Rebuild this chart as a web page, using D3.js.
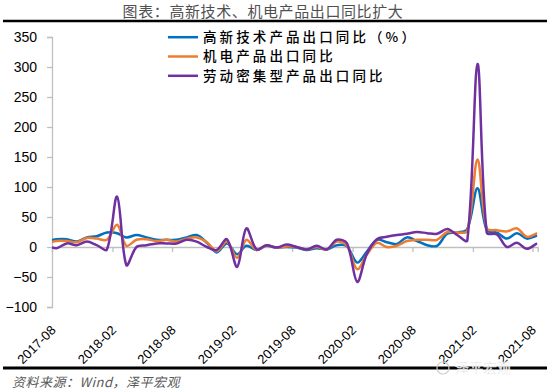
<!DOCTYPE html>
<html><head><meta charset="utf-8">
<script src="https://cdn.jsdelivr.net/npm/d3@7"></script>
<style>
html,body{margin:0;padding:0;background:#fff;}
svg{display:block;}
</style></head>
<body>
<svg id="c" width="550" height="391"></svg>
<script>
const months = ["2017-07","2017-08","2017-09","2017-10","2017-11","2017-12",
"2018-01","2018-02","2018-03","2018-04","2018-05","2018-06","2018-07","2018-08","2018-09","2018-10","2018-11","2018-12",
"2019-01","2019-02","2019-03","2019-04","2019-05","2019-06","2019-07","2019-08","2019-09","2019-10","2019-11","2019-12",
"2020-01","2020-02","2020-03","2020-04","2020-05","2020-06","2020-07","2020-08","2020-09","2020-10","2020-11","2020-12",
"2021-01","2021-02","2021-03","2021-04","2021-05","2021-06","2021-07","2021-08"];
const hiTech = [10,13,13,9,16,18,24,23,16,20,16,12,12,12,16,20,7,-9,6,-12,2,-5,2,-1,0,-1,-5,-2,-4,3,1,-26,-8,12,8,5,16,10,3,2,22,24,30,98,28,24,14,23,14,19];
const mech = [6,10,10,8,15,14,12,37,2,12,13,10,12,9,14,16,8,-7,9,-18,12,-5,3,-1,1,0,-4,0,-4,9,2,-37,-13,7,0,2,10,12,12,12,25,24,27,146,31,28,26,31,17,23];
const labor = [2,-2,6,3,9,3,-4,84,-30,0,3,6,6,6,12,9,0,-5,13,-33,31,-4,3,-1,4,0,-4,2,-4,12,6,-58,-12,13,17,20,22,25,23,22,30,20,11,305,24,21,0,7,-3,6];
const seriesNames = ["高新技术产品出口同比（%）","机电产品出口同比","劳动密集型产品出口同比"];
const seriesColors = ["#0070C0","#ED7D31","#7030A0"];
const xTickLabels = ["2017-08","2018-02","2018-08","2019-02","2019-08","2020-02","2020-08","2021-02","2021-08"];
const yTicks = [-100,-50,0,50,100,150,200,250,300,350];
const titleText = "图表：高新技术、机电产品出口同比扩大";
const sourceText = "资料来源：Wind，泽平宏观";

// Excel-like smoothed line: Bezier with chord-length-weighted tangents
function ExcelCurve(context){ this._context = context; }
ExcelCurve.prototype = {
  areaStart(){ this._line = 0; },
  areaEnd(){ this._line = NaN; },
  lineStart(){ this._pts = []; },
  point(x, y){ this._pts.push([+x, +y]); },
  lineEnd(){
    const p = this._pts, c = this._context, n = p.length;
    if (!n) return;
    const dist = (a,b) => Math.hypot(b[0]-a[0], b[1]-a[1]);
    c.moveTo(p[0][0], p[0][1]);
    for (let i = 0; i < n-1; i++){
      const p0 = p[Math.max(i-1,0)], p1 = p[i], p2 = p[i+1], p3 = p[Math.min(i+2,n-1)];
      const d01 = dist(p0,p1), d12 = dist(p1,p2), d23 = dist(p2,p3);
      const a = (d01+d12) > 0 ? d12/(d01+d12)/3 : 0;
      const b = (d12+d23) > 0 ? d12/(d12+d23)/3 : 0;
      c.bezierCurveTo(
        p1[0] + (p2[0]-p0[0])*a, p1[1] + (p2[1]-p0[1])*a,
        p2[0] - (p3[0]-p1[0])*b, p2[1] - (p3[1]-p1[1])*b,
        p2[0], p2[1]);
    }
  }
};
const curveExcel = ctx => new ExcelCurve(ctx);

const svg = d3.select("#c");
const parseM = d3.timeParse("%Y-%m");
const mid = s => { const d = parseM(s); return new Date(d.getFullYear(), d.getMonth(), 15); };

const x = d3.scaleTime().domain([new Date(2017,7,1), new Date(2021,7,17)]).range([52, 537.7]);
const y = d3.scaleLinear().domain([-100, 350]).range([307, 37]);

// title
svg.append("text").attr("x", 263).attr("y", 17).attr("text-anchor","middle")
  .attr("font-family","'Noto Sans CJK SC'").attr("font-size", 15).attr("letter-spacing", 0.6)
  .attr("fill","#505050").text(titleText);
svg.append("line").attr("x1",3).attr("x2",547).attr("y1",21).attr("y2",21)
  .attr("stroke","#000").attr("stroke-width",2.5);

// y axis
const ya = svg.append("g").attr("transform","translate(52,0)")
  .call(d3.axisLeft(y).tickValues(yTicks).tickSize(5).tickPadding(10).tickFormat(d3.format("d")));
ya.select(".domain").attr("stroke","#bfbfbf").attr("stroke-width",1.3);
ya.selectAll(".tick line").attr("stroke","#bfbfbf").attr("stroke-width",1.3);
ya.selectAll("text").attr("font-family","'Liberation Sans'").attr("font-size",14).attr("fill","#000");

// x axis at zero
const xTickDates = xTickLabels.map(parseM);
const xa = svg.append("g").attr("transform",`translate(0,${y(0)})`)
  .call(d3.axisBottom(x).tickValues(xTickDates).tickSize(5).tickFormat(""));
xa.select(".domain").attr("stroke","#bfbfbf").attr("stroke-width",1.3);
xa.selectAll(".tick line").attr("stroke","#bfbfbf").attr("stroke-width",1.3);

svg.append("g").selectAll("text").data(xTickLabels).join("text")
  .attr("transform", d => `translate(${x(parseM(d))+4.5},331) rotate(-45)`)
  .attr("text-anchor","end").attr("font-family","'Liberation Sans'").attr("font-size",13)
  .attr("fill","#000").text(d => d);

// clip
svg.append("clipPath").attr("id","pc").append("rect")
  .attr("x",52).attr("y",25).attr("width",537.7-52+2).attr("height",300);

const line = d3.line().x((d,i)=>x(mid(months[i]))).y(d=>y(d)).curve(curveExcel);
const g = svg.append("g").attr("clip-path","url(#pc)");
[hiTech, mech, labor].forEach((s,k)=>{
  g.append("path").attr("d", line(s)).attr("fill","none")
    .attr("stroke", seriesColors[k]).attr("stroke-width",2.5).attr("stroke-linejoin","round");
});

// legend
const ly = [37.2, 56.5, 75.8];
seriesNames.forEach((n,k)=>{
  svg.append("line").attr("x1",168).attr("x2",198).attr("y1",ly[k]).attr("y2",ly[k])
    .attr("stroke",seriesColors[k]).attr("stroke-width",2.5);
  svg.append("text").attr("x",203).attr("y",ly[k]).attr("dy","0.36em")
    .attr("font-family","'Noto Sans CJK SC'").attr("font-size",13.5).attr("font-weight",500)
    .attr("letter-spacing",3.1).attr("fill","#000").text(n);
});

// bottom
svg.append("line").attr("x1",3).attr("x2",547).attr("y1",368).attr("y2",368)
  .attr("stroke","#000").attr("stroke-width",3);
svg.append("text").attr("x",12).attr("y",387)
  .attr("font-family","'Noto Sans CJK SC'").attr("font-size",13).attr("font-style","italic")
  .attr("letter-spacing",0.5).attr("fill","#595959").text(sourceText);
// watermark
svg.append("text").attr("x",455).attr("y",373)
  .attr("font-family","'Noto Sans CJK SC'").attr("font-size",14)
  .attr("fill","#cfcfcf").attr("stroke","#fff").attr("stroke-width",0.6).attr("opacity",0.9).text("泽平宏观");
svg.append("circle").attr("cx",443).attr("cy",368).attr("r",6).attr("fill","none")
  .attr("stroke","#d0d0d0").attr("stroke-width",1.2);
</script>
</body></html>
